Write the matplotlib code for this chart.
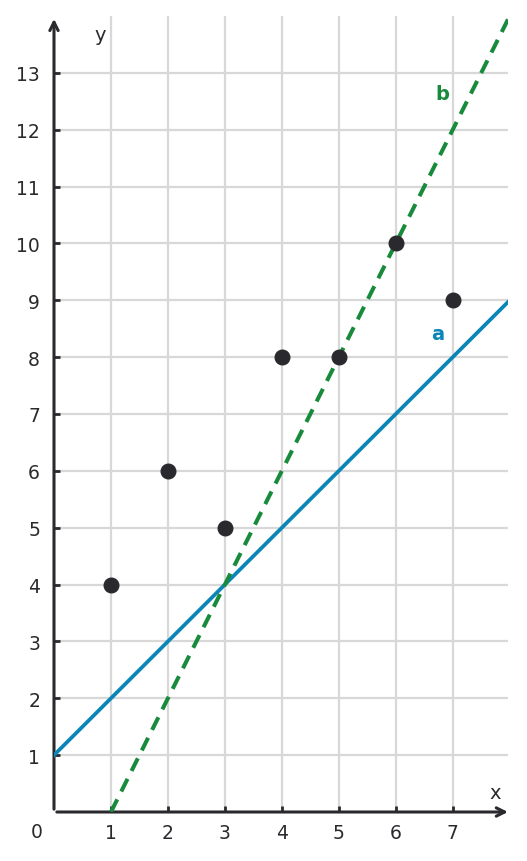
import numpy as np
import matplotlib.pyplot as plt

# data points
px = [1, 2, 3, 4, 5, 6, 7]
py = [4, 6, 5, 8, 8, 10, 9]

# lines a and b: (x, y) end points
a_x = [0, 8]
a_y = [1, 9]
b_x = [1, 8]
b_y = [0, 14]

xticks = [1, 2, 3, 4, 5, 6, 7]
yticks = list(range(1, 14))

dark = '#2a2a2e'
blue = '#0a85b8'
green = '#178a3c'
gridc = '#d8d8d8'

fig = plt.figure(figsize=(5.27, 8.62), dpi=100)
ax = fig.add_axes([54/527, 49/862, 454/527, 796/862])
ax.set_xlim(0, 7.97)
ax.set_ylim(0, 14)

for s in ax.spines.values():
    s.set_visible(False)

ax.set_xticks(xticks)
ax.set_yticks(yticks)
ax.grid(True, color=gridc, lw=1.6, zorder=0)
ax.tick_params(direction='in', length=4, width=2, color=dark,
               labelsize=13.5, labelcolor=dark)
ax.tick_params(axis='x', pad=8)
ax.tick_params(axis='y', pad=10)

# axes with arrow heads
ax.annotate('', xy=(7.97, 0), xytext=(0.05, 0), xycoords='data',
            arrowprops=dict(arrowstyle='->,head_length=0.6,head_width=0.3',
                            color=dark, lw=2.2, shrinkA=0, shrinkB=0),
            annotation_clip=False)
ax.annotate('', xy=(0, 13.95), xytext=(0, 0.05), xycoords='data',
            arrowprops=dict(arrowstyle='->,head_length=0.6,head_width=0.3',
                            color=dark, lw=2.2, shrinkA=0, shrinkB=0),
            annotation_clip=False)

ax.plot(a_x, a_y, color=blue, lw=2.7, zorder=3, clip_on=True)
ax.plot(b_x, b_y, color=green, lw=2.9, ls=(0, (3.5, 2.2)), zorder=3)
ax.plot(px, py, 'o', color=dark, ms=10.5, zorder=4)

ax.text(7.75, 0.35, 'x', fontsize=14, color=dark, ha='center', va='center')
ax.text(0.82, 13.68, 'y', fontsize=14, color=dark, ha='center', va='center')
ax.text(-0.3, -0.35, '0', fontsize=13.5, color=dark, ha='center', va='center')
ax.text(6.82, 12.63, 'b', fontsize=14, color=green, weight='bold', ha='center', va='center')
ax.text(6.74, 8.41, 'a', fontsize=14, color=blue, weight='bold', ha='center', va='center')

fig.savefig('out.png', dpi=100)
